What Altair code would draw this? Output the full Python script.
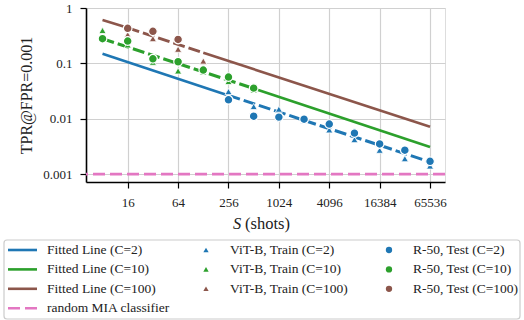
import altair as alt
import pandas as pd

# ---------------- data ----------------
C_LABELS = ["2", "10", "100"]
COLORS = ["#1f77b4", "#2ca02c", "#8c564b"]
RANDOM_COLOR = "#e377c2"

# ViT-B, Train (triangles) and R-50, Test (circles)
vit_S_c2 = [256, 512, 1024, 2048, 4096, 8192, 16384, 32768, 65536]
vit_tpr_c2 = [0.031, 0.0166, 0.0149, 0.0093, 0.0063, 0.0042, 0.0027, 0.0019, 0.0014]
r50_S_c2 = [256, 512, 1024, 2048, 4096, 8192, 16384, 32768, 65536]
r50_tpr_c2 = [0.022, 0.0111, 0.0107, 0.0098, 0.0080, 0.0055, 0.0035, 0.0027, 0.0017]

vit_S_c10 = [8, 16, 32, 64, 128, 256, 512]
vit_tpr_c10 = [0.394, 0.215, 0.105, 0.073, 0.070, 0.047, 0.033]
r50_S_c10 = [8, 16, 32, 64, 128, 256, 512]
r50_tpr_c10 = [0.279, 0.253, 0.121, 0.107, 0.0757, 0.0565, 0.0357]

vit_S_c100 = [16, 32, 64, 128]
vit_tpr_c100 = [0.33, 0.28, 0.18, 0.11]
r50_S_c100 = [16, 32, 64]
r50_tpr_c100 = [0.43, 0.38, 0.27]

# Fitted lines: break points and whether each segment is dashed
fit_S_c2 = [8, 256, 65536]
fit_tpr_c2 = [0.149, 0.0264, 0.00166]
fit_dash_c2 = [False, True]
fit_S_c10 = [8, 512, 65536]
fit_tpr_c10 = [0.278, 0.0352, 0.0031]
fit_dash_c10 = [True, False]
fit_S_c100 = [8, 16, 128, 65536]
fit_tpr_c100 = [0.61, 0.438, 0.156, 0.00714]
fit_dash_c100 = [False, True, False]

random_tpr = [0.001]

x_ticks = [16, 64, 256, 1024, 4096, 16384, 65536]
y_ticks = [1, 0.1, 0.01, 0.001]

# ---------------- tables ----------------
pts_rows = []
for C, vs, vt, rs, rt in [
    ("2", vit_S_c2, vit_tpr_c2, r50_S_c2, r50_tpr_c2),
    ("10", vit_S_c10, vit_tpr_c10, r50_S_c10, r50_tpr_c10),
    ("100", vit_S_c100, vit_tpr_c100, r50_S_c100, r50_tpr_c100),
]:
    for s, t in zip(vs, vt):
        pts_rows.append({"S": s, "tpr": t, "C": C, "model": "vit"})
    for s, t in zip(rs, rt):
        pts_rows.append({"S": s, "tpr": t, "C": C, "model": "r50"})
pts = pd.DataFrame(pts_rows)
vit_df = pts[pts.model == "vit"]
r50_df = pts[pts.model == "r50"]

fit_rows = []
for C, fs, ft, fd in [
    ("2", fit_S_c2, fit_tpr_c2, fit_dash_c2),
    ("10", fit_S_c10, fit_tpr_c10, fit_dash_c10),
    ("100", fit_S_c100, fit_tpr_c100, fit_dash_c100),
]:
    for i, d in enumerate(fd):
        for j in (i, i + 1):
            fit_rows.append({"S": fs[j], "tpr": ft[j], "C": C, "seg": f"{C}-{i}", "dashed": d})
fit = pd.DataFrame(fit_rows)
fit_solid = fit[~fit.dashed]
fit_dashed = fit[fit.dashed]

rand_df = pd.DataFrame({"tpr": random_tpr})

# legend entries (row, col layout as in the reference)
leg_rows = []
for r, (C, col) in enumerate(zip(C_LABELS, COLORS)):
    leg_rows.append({"row": r, "col": 0, "kind": "line", "color": col, "label": f"Fitted Line (C={C})"})
    leg_rows.append({"row": r, "col": 1, "kind": "tri", "color": col, "label": f"ViT-B, Train (C={C})"})
    leg_rows.append({"row": r, "col": 2, "kind": "dot", "color": col, "label": f"R-50, Test (C={C})"})
leg_rows.append({"row": 3, "col": 0, "kind": "dash", "color": RANDOM_COLOR, "label": "random MIA classifier"})
leg = pd.DataFrame(leg_rows)

# ---------------- encodings ----------------
FONT = "'Liberation Serif', 'Times New Roman', 'DejaVu Serif', serif"
xscale = alt.Scale(type="log", base=2, domain=[5.08, 98900], nice=False)
yscale = alt.Scale(type="log", domain=[0.00072, 1.0], nice=False)
xaxis = alt.Axis(values=x_ticks, format="d", title=None, labelFont=FONT, labelFontSize=13,
                 labelColor="#222", tickSize=6, tickColor="black", tickWidth=1.2,
                 labelPadding=8, domainColor="black", domainWidth=1.6,
                 grid=True, gridColor="#d0d0d0", gridWidth=1.2)
yaxis = alt.Axis(values=y_ticks, format="~g", title="TPR@FPR=0.001", labelFont=FONT, labelFontSize=13,
                 titleFont=FONT, titleFontSize=16, titleFontWeight="normal", titleColor="#222",
                 labelColor="#222", tickSize=6, tickColor="black", tickWidth=1.2,
                 labelPadding=8, titlePadding=8, domainColor="black", domainWidth=1.6,
                 grid=True, gridColor="#d0d0d0", gridWidth=1.2)
X = alt.X("S:Q", scale=xscale, axis=xaxis)
Y = alt.Y("tpr:Q", scale=yscale, axis=yaxis)
COL = alt.Color("C:N", scale=alt.Scale(domain=C_LABELS, range=COLORS), legend=None)

solid = alt.Chart(fit_solid).mark_line(strokeWidth=2.6).encode(x=X, y=Y, color=COL, detail="seg:N")
dashed = alt.Chart(fit_dashed).mark_line(strokeWidth=3, strokeDash=[12, 4]).encode(
    x=X, y=Y, color=COL, detail="seg:N")
rand = alt.Chart(rand_df).mark_rule(color=RANDOM_COLOR, strokeWidth=2.6, strokeDash=[12, 5]).encode(y=Y)
tris = alt.Chart(vit_df).mark_point(shape="triangle-up", filled=True, size=50, stroke="white",
                                    strokeWidth=0.8, opacity=1).encode(x=X, y=Y, color=COL)
dots = alt.Chart(r50_df).mark_point(shape="circle", filled=True, size=75, stroke="white",
                                    strokeWidth=1.2, opacity=1).encode(x=X, y=Y, color=COL)

# x-axis title: italic "S" followed by "(shots)"
one = pd.DataFrame({"a": [0]})
xt_S = alt.Chart(one).mark_text(text="S", font=FONT, fontSize=16.5, fontStyle="italic",
                                align="left", baseline="middle", color="#222").encode(
    x=alt.value(147), y=alt.value(216))
xt_rest = alt.Chart(one).mark_text(text="(shots)", font=FONT, fontSize=16.5,
                                   align="left", baseline="middle", color="#222").encode(
    x=alt.value(159), y=alt.value(216))

# ---------------- legend (pixel layout below the plot) ----------------
legbase = alt.Chart(leg).transform_calculate(
    sx="-63 + datum.col * 183",
    lx1="-78",
    lx2="-49",
    tx="-39 + datum.col * 183",
    ly="242 + datum.row * 19.4",
)
frame = alt.Chart(one).mark_rect(
    fill="white", stroke="#cccccc", strokeWidth=1.2, cornerRadius=3).encode(
    x=alt.value(-82), x2=alt.value(434), y=alt.value(232), y2=alt.value(311))
leg_lines = legbase.transform_filter("datum.kind == 'line'").mark_rule(strokeWidth=2.6).encode(
    x=alt.X("lx1:Q", scale=None), x2="lx2:Q", y=alt.Y("ly:Q", scale=None),
    color=alt.Color("color:N", scale=None))
leg_dash = legbase.transform_filter("datum.kind == 'dash'").mark_rule(
    strokeWidth=2.6, strokeDash=[12, 5]).encode(
    x=alt.X("lx1:Q", scale=None), x2="lx2:Q", y=alt.Y("ly:Q", scale=None),
    color=alt.Color("color:N", scale=None))
leg_tri = legbase.transform_filter("datum.kind == 'tri'").mark_point(
    shape="triangle-up", filled=True, size=28, opacity=1).encode(
    x=alt.X("sx:Q", scale=None), y=alt.Y("ly:Q", scale=None), color=alt.Color("color:N", scale=None))
leg_dot = legbase.transform_filter("datum.kind == 'dot'").mark_point(
    shape="circle", filled=True, size=40, opacity=1).encode(
    x=alt.X("sx:Q", scale=None), y=alt.Y("ly:Q", scale=None), color=alt.Color("color:N", scale=None))
leg_text = legbase.mark_text(align="left", baseline="middle", font=FONT, fontSize=13.5,
                             color="#222").encode(
    x=alt.X("tx:Q", scale=None), y=alt.Y("ly:Q", scale=None), text="label:N")

chart = alt.layer(
    solid, dashed, rand, tris, dots, xt_S, xt_rest,
    frame, leg_lines, leg_dash, leg_tri, leg_dot, leg_text
).properties(
    width=359, height=174,
    autosize=alt.AutoSizeParams(type="none"),
    padding={"left": 86, "top": 8, "right": 79, "bottom": 138},
).configure_view(stroke="black", strokeWidth=1.6).configure(background="white")

chart.save("out.html", embed_options={"renderer": "svg", "actions": False})
